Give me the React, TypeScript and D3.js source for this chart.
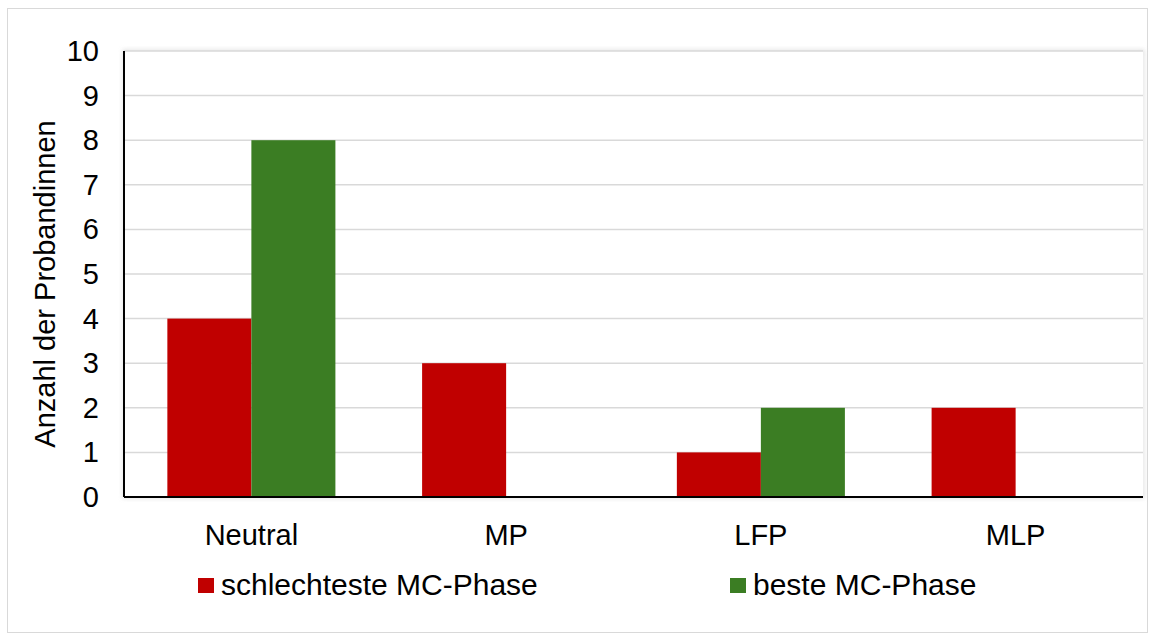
import React from "react";
import * as d3 from "d3";

const categories = ["Neutral", "MP", "LFP", "MLP"];
const seriesNames = ["schlechteste MC-Phase", "beste MC-Phase"];
const worstPhase = [4, 3, 1, 2];
const bestPhase = [8, 0, 2, 0];
const yTicks = [0, 1, 2, 3, 4, 5, 6, 7, 8, 9, 10];
const colors = ["#c00000", "#3b7d23"];

const W = 1149;
const H = 633;
const plot = { left: 124, right: 1143, top: 51, bottom: 497 };
const font = "'Liberation Sans', Arial, sans-serif";
const fs = 29;

export default function App() {
  const x = d3
    .scaleBand<string>()
    .domain(categories)
    .range([plot.left, plot.right])
    .paddingInner(0)
    .paddingOuter(0);
  const y = d3.scaleLinear().domain([0, 10]).range([plot.bottom, plot.top]);
  const inner = d3
    .scaleBand<string>()
    .domain(seriesNames)
    .range([0, x.bandwidth()])
    .paddingInner(0)
    .paddingOuter(0.516);

  const series = [worstPhase, bestPhase];
  const legendX = [198, 730];

  return (
    <svg
      width={W}
      height={H}
      style={{ position: "absolute", left: 0, top: 0, background: "#fff" }}
    >
      <defs>
        <filter id="plotShadow" x="-5%" y="-5%" width="110%" height="110%">
          <feGaussianBlur stdDeviation="2" />
        </filter>
      </defs>
      <rect x={7.5} y={8.5} width={1140} height={624} fill="#fff" stroke="#d9d9d9" />
      {/* faint plot-area frame */}
      <rect
        x={plot.left}
        y={plot.top}
        width={plot.right - plot.left}
        height={plot.bottom - plot.top}
        fill="none"
        stroke="#d0d0d0"
        strokeWidth={2}
        filter="url(#plotShadow)"
      />
      <rect
        x={plot.left}
        y={plot.top}
        width={plot.right - plot.left}
        height={plot.bottom - plot.top}
        fill="#fff"
      />
      {yTicks.map((t) => (
        <g key={t}>
          {t > 0 && (
            <line
              x1={plot.left}
              x2={plot.right}
              y1={y(t)}
              y2={y(t)}
              stroke="#d9d9d9"
              strokeWidth={1.5}
            />
          )}
          <text
            x={plot.left - 25}
            y={y(t) + 10}
            textAnchor="end"
            fontFamily={font}
            fontSize={fs}
            fill="#000"
          >
            {t}
          </text>
        </g>
      ))}
      {categories.map((c, i) => (
        <g key={c}>
          {series.map((s, k) =>
            s[i] > 0 ? (
              <rect
                key={k}
                x={(x(c) as number) + (inner(seriesNames[k]) as number)}
                y={y(s[i])}
                width={inner.bandwidth()}
                height={y(0) - y(s[i])}
                fill={colors[k]}
              />
            ) : null
          )}
          <text
            x={(x(c) as number) + x.bandwidth() / 2}
            y={545}
            textAnchor="middle"
            fontFamily={font}
            fontSize={fs}
            fill="#000"
          >
            {c}
          </text>
        </g>
      ))}
      <line x1={plot.left} x2={plot.left} y1={plot.top} y2={plot.bottom} stroke="#000" strokeWidth={2} />
      <line x1={plot.left} x2={plot.right} y1={plot.bottom} y2={plot.bottom} stroke="#000" strokeWidth={2} />
      <text
        transform={`translate(55,284) rotate(-90)`}
        textAnchor="middle"
        fontFamily={font}
        fontSize={fs}
        fill="#000"
      >
        Anzahl der Probandinnen
      </text>
      {seriesNames.map((n, k) => (
        <g key={n}>
          <rect x={legendX[k]} y={578} width={16} height={15} fill={colors[k]} />
          <text
            x={legendX[k] + 23}
            y={595}
            fontFamily={font}
            fontSize={30}
            fill="#000"
          >
            {n}
          </text>
        </g>
      ))}
    </svg>
  );
}
